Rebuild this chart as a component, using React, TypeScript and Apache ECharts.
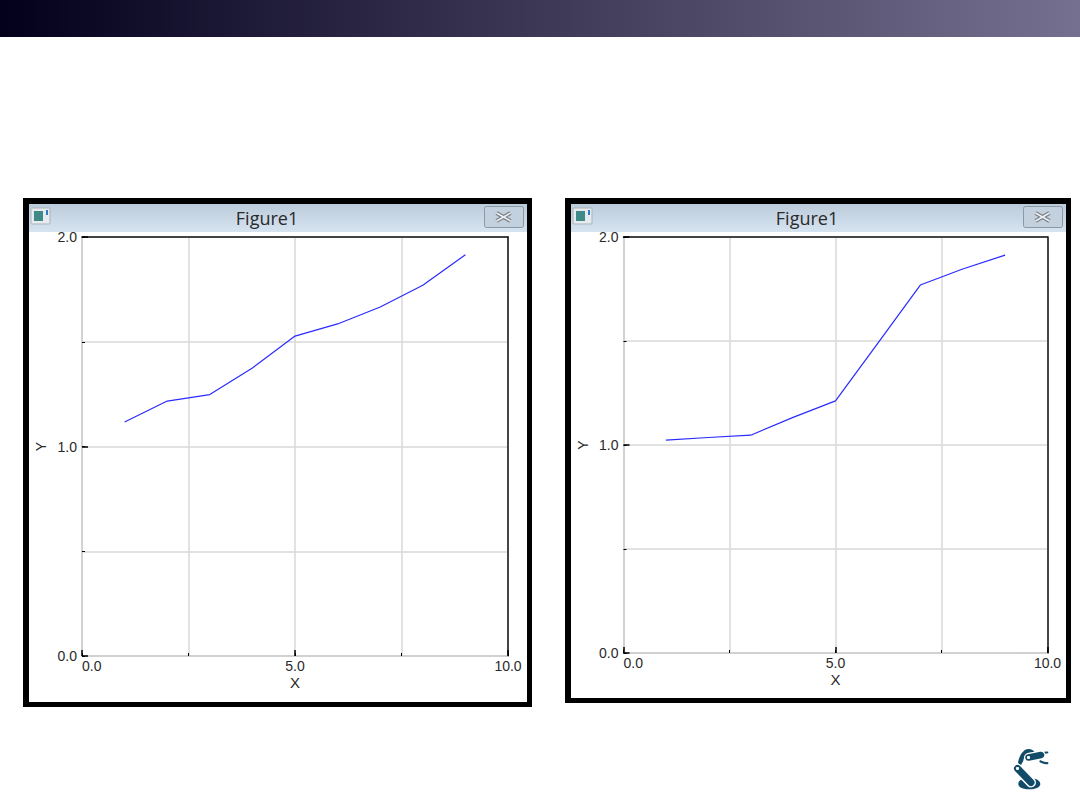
import React, { useEffect, useRef } from "react";
import * as echarts from "echarts";

const xValues = [1, 2, 3, 4, 5, 6, 7, 8, 9];
const leftValues = [1.117, 1.217, 1.248, 1.375, 1.527, 1.585, 1.666, 1.77, 1.915];
const rightValues = [1.023, 1.036, 1.047, 1.133, 1.212, 1.49, 1.769, 1.846, 1.913];
const figureTitle = "Figure1";
const xName = "X";
const yName = "Y";

const FONT = "Liberation Sans";
const TEXT = "#2a2a2a";
const GRID = "#d9d9d9";
const LOGO = "#124b68";

echarts.graphic.registerShape(
  "logoBase",
  echarts.graphic.extendPath(
    "M85 162 C85 150 100 144 118 144 C136 144 151 151 151 162 C151 172 136 178 118 178 C100 178 85 172 85 162 Z",
    {}
  )
);
echarts.graphic.registerShape(
  "logoArc",
  echarts.graphic.extendPath(
    "M84 98 C88 76 100 57 116 57 C125 57 131 61 135 68 L122 68 C110 68 103 78 100 92 L92 108 Z",
    {}
  )
);
echarts.graphic.registerShape(
  "logoGrip",
  echarts.graphic.extendPath(
    "M152 72 C156 67 164 63 175 65 L175 70 C166 70 160 73 156 79 Z M150 90 C156 92 164 97 175 97 L175 102 C164 104 154 100 148 95 Z",
    {}
  )
);

type Win = {
  outer: [number, number, number, number];
  inner: [number, number, number, number];
  grid: { left: number; top: number; width: number; height: number };
  closeX: number;
  iconX: number;
  titleX: number;
};

const winL: Win = {
  outer: [23, 198, 509, 509],
  inner: [29, 204, 498, 498],
  grid: { left: 82, top: 237, width: 426, height: 419 },
  closeX: 484,
  iconX: 31,
  titleX: 267,
};
const winR: Win = {
  outer: [565, 198, 506, 505],
  inner: [571, 204, 495, 494],
  grid: { left: 623.5, top: 237, width: 424, height: 416 },
  closeX: 1023,
  iconX: 573,
  titleX: 807,
};

function frame(w: Win): any[] {
  const [ox, oy, ow, oh] = w.outer;
  const [ix, iy, iw, ih] = w.inner;
  const cx = w.closeX + 19.5;
  const cy = 217;
  const cross = (color: string, width: number, z: number) => [
    { type: "line", z, shape: { x1: cx - 7, y1: cy - 4, x2: cx + 7, y2: cy + 4 }, style: { stroke: color, lineWidth: width } },
    { type: "line", z, shape: { x1: cx - 7, y1: cy + 4, x2: cx + 7, y2: cy - 4 }, style: { stroke: color, lineWidth: width } },
  ];
  return [
    { type: "rect", z: -5, shape: { x: ox, y: oy, width: ow, height: oh }, style: { fill: "#000" } },
    { type: "rect", z: -4, shape: { x: ix, y: iy, width: iw, height: ih }, style: { fill: "#fff" } },
    {
      type: "rect",
      z: -3,
      shape: { x: ix, y: iy, width: iw, height: 28 },
      style: {
        fill: new echarts.graphic.LinearGradient(0, 0, 0, 1, [
          { offset: 0, color: "#bccbda" },
          { offset: 1, color: "#d6e4f1" },
        ]),
      },
    },
    {
      type: "text",
      z: 5,
      x: w.titleX,
      y: 218,
      style: { text: figureTitle, font: "18px 'Open Sans', sans-serif", fill: "#2a2a2a", align: "center", verticalAlign: "middle" },
    },
    {
      type: "rect",
      z: 5,
      shape: { x: w.closeX + 0.5, y: 206.5, width: 39, height: 21, r: 2 },
      style: { fill: "#c3d1de", stroke: "#8b98a6", lineWidth: 1 },
    },
    ...cross("#79818a", 4, 6),
    ...cross("#eef1f4", 1.5, 7),
    {
      type: "rect",
      z: 5,
      shape: { x: w.iconX, y: 208, width: 19, height: 16, r: 1 },
      style: { fill: "#e6ebef", stroke: "#a9b3bd", lineWidth: 1 },
    },
    { type: "rect", z: 6, shape: { x: w.iconX + 3, y: 211, width: 9, height: 10 }, style: { fill: "#3f8a88" } },
    { type: "rect", z: 6, shape: { x: w.iconX + 15, y: 210, width: 2, height: 5 }, style: { fill: "#2f7fc0" } },
  ];
}

const labelStyle = { color: TEXT, fontFamily: FONT, fontSize: 14 };

function axesFor(i: number, grid: number, values: number[]) {
  const xAxes = [
    {
      type: "value", gridIndex: grid, min: 0, max: 10, interval: 2.5, position: "bottom",
      axisLine: { show: true, onZero: false, lineStyle: { color: "#cccccc", width: 1.5 } },
      axisTick: { show: true, inside: true, length: 3, lineStyle: { color: "#000" } },
      axisLabel: { show: false },
      splitLine: { show: true, lineStyle: { color: GRID, width: 1.5 } },
    },
    {
      type: "value", gridIndex: grid, min: 0, max: 10, interval: 5, position: "bottom",
      name: xName, nameLocation: "middle", nameGap: 19, nameMoveOverlap: false,
      nameTextStyle: { color: TEXT, fontFamily: FONT, fontSize: 15 },
      axisLine: { show: false, onZero: false },
      axisTick: { show: true, inside: true, length: 6, lineStyle: { color: "#000", width: 1.5 } },
      axisLabel: { ...labelStyle, margin: 3, alignMinLabel: "left", alignMaxLabel: "center", formatter: (v: number) => v.toFixed(1) },
      splitLine: { show: false },
    },
    {
      type: "value", gridIndex: grid, min: 0, max: 10, position: "top",
      axisLine: { show: true, onZero: false, lineStyle: { color: "#111", width: 1.5 } },
      axisTick: { show: false }, axisLabel: { show: false }, splitLine: { show: false },
    },
  ];
  const yAxes = [
    {
      type: "value", gridIndex: grid, min: 0, max: 2, interval: 0.5, position: "left",
      axisLine: { show: true, onZero: false, lineStyle: { color: "#cccccc", width: 1.5 } },
      axisTick: { show: true, inside: true, length: 3, lineStyle: { color: "#000" } },
      axisLabel: { show: false },
      splitLine: { show: true, lineStyle: { color: GRID, width: 1.5 } },
    },
    {
      type: "value", gridIndex: grid, min: 0, max: 2, interval: 1, position: "left",
      name: yName, nameLocation: "middle", nameGap: 34, nameRotate: 90, nameMoveOverlap: false,
      nameTextStyle: { color: TEXT, fontFamily: FONT, fontSize: 14 },
      axisLine: { show: false, onZero: false },
      axisTick: { show: true, inside: true, length: 6, lineStyle: { color: "#000", width: 1.5 } },
      axisLabel: { ...labelStyle, margin: 5, formatter: (v: number) => v.toFixed(1) },
      splitLine: { show: false },
    },
    {
      type: "value", gridIndex: grid, min: 0, max: 2, position: "right",
      axisLine: { show: true, onZero: false, lineStyle: { color: "#111", width: 1.5 } },
      axisTick: { show: false }, axisLabel: { show: false }, splitLine: { show: false },
    },
  ];
  const series = {
    type: "line",
    xAxisIndex: i * 3,
    yAxisIndex: i * 3,
    data: xValues.map((x, k) => [x, values[k]]),
    showSymbol: false,
    smooth: false,
    lineStyle: { color: "#2a2aff", width: 1.2 },
  };
  return { xAxes, yAxes, series };
}

export default function App() {
  const ref = useRef<HTMLDivElement>(null);
  useEffect(() => {
    if (!ref.current) return;
    const chart = echarts.init(ref.current, undefined, { renderer: "svg" });
    const a = axesFor(0, 0, leftValues);
    const b = axesFor(1, 1, rightValues);
    const logoT = { x: 990, y: 730, scaleX: 1 / 3, scaleY: 1 / 3 };
    chart.setOption({
      animation: false,
      backgroundColor: "#fff",
      grid: [winL.grid, winR.grid],
      xAxis: [...a.xAxes, ...b.xAxes],
      yAxis: [...a.yAxes, ...b.yAxes],
      series: [a.series, b.series],
      graphic: [
        {
          type: "rect",
          z: -5,
          shape: { x: 0, y: 0, width: 1080, height: 37 },
          style: {
            fill: new echarts.graphic.LinearGradient(0, 0, 1, 0, [
              { offset: 0, color: "#03001c" },
              { offset: 1, color: "#75708f" },
            ]),
          },
        },
        ...frame(winL),
        ...frame(winR),
        { type: "logoBase", z: 3, ...logoT, style: { fill: LOGO } },
        { type: "logoArc", z: 3, ...logoT, style: { fill: LOGO } },
        { type: "logoGrip", z: 3, ...logoT, style: { fill: LOGO } },
        { type: "line", z: 4, shape: { x1: 1017.5, y1: 768.5, x2: 1031, y2: 782.5 }, style: { stroke: "#fff", lineWidth: 10, lineCap: "round" } },
        { type: "line", z: 5, shape: { x1: 1017.5, y1: 768.5, x2: 1031, y2: 782.5 }, style: { stroke: LOGO, lineWidth: 7, lineCap: "round" } },
        { type: "line", z: 4, shape: { x1: 1028.5, y1: 757.5, x2: 1041, y2: 755 }, style: { stroke: "#fff", lineWidth: 9, lineCap: "round" } },
        { type: "line", z: 5, shape: { x1: 1028.5, y1: 757.5, x2: 1041, y2: 755 }, style: { stroke: LOGO, lineWidth: 6.5, lineCap: "round" } },
        { type: "circle", z: 7, shape: { cx: 1017.5, cy: 768.5, r: 1.6 }, style: { fill: "#fff" } },
        { type: "circle", z: 7, shape: { cx: 1028.5, cy: 757.5, r: 1.6 }, style: { fill: "#fff" } },
      ],
    });
    return () => chart.dispose();
  }, []);
  return <div ref={ref} style={{ position: "fixed", left: 0, top: 0, width: 1080, height: 810 }} />;
}
